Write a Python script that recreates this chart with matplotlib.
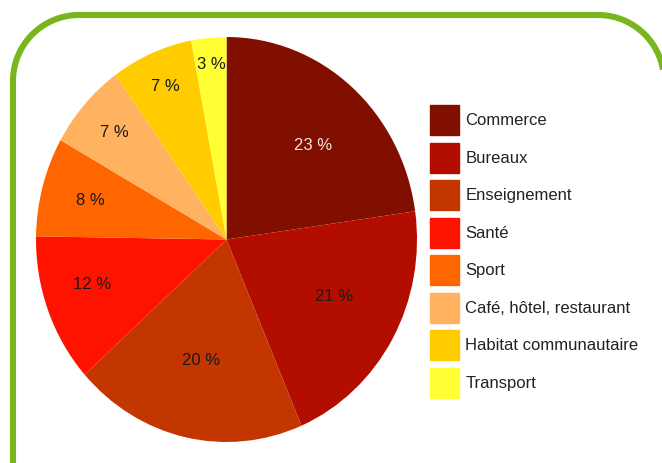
import numpy as np
import matplotlib
matplotlib.use("Agg")
import matplotlib.pyplot as plt
from matplotlib.patches import Patch

plt.rcParams['font.family'] = ['Liberation Sans', 'DejaVu Sans']

categories = ["Commerce", "Bureaux", "Enseignement", "Santé", "Sport",
              "Café, hôtel, restaurant", "Habitat communautaire", "Transport"]
shares = [23, 21, 20, 12, 8, 7, 7, 3]
colors = ["#800f00", "#b30d00", "#c43600", "#ff1300", "#ff6600",
          "#ffb360", "#ffcc00", "#ffff33"]

# where each percentage label sits: fraction of the radius, and a small
# angular nudge (degrees) away from the middle of the slice
label_r = [0.65, 0.63, 0.61, 0.74, 0.74, 0.79, 0.82, 0.87]
label_dtheta = [-3.5, 3, 0, -3, 0, 0, 0, 0]
label_colors = ["#f2e4e4"] + ["#1a1a1a"] * 7

W, H = 662, 463
fig = plt.figure(figsize=(W / 100, H / 100), dpi=100)
fig.patch.set_facecolor("white")

# green rounded frame, in pixel coordinates (y down), open at the bottom
bg = fig.add_axes([0, 0, 1, 1], zorder=0)
bg.set_xlim(0, W)
bg.set_ylim(H, 0)
bg.axis("off")
left, right, top, bottom, rad = 13, 664, 15, 600, 66
t = np.linspace(0, np.pi / 2, 40)
xs = np.concatenate([[left], left + rad - rad * np.cos(t),
                     right - rad + rad * np.sin(t), [right]])
ys = np.concatenate([[bottom], top + rad - rad * np.sin(t),
                     top + rad - rad * np.cos(t), [bottom]])
bg.plot(xs, ys, color="#79b51d", linewidth=4.4, solid_capstyle="butt",
        solid_joinstyle="round")

# the pie is slightly taller than wide
ax = fig.add_axes([36 / W, (H - 442) / H, 381 / W, 405 / H], zorder=1)
wedges, _ = ax.pie(shares, colors=colors, startangle=90, counterclock=False,
                   radius=1, wedgeprops=dict(linewidth=0))
ax.set_aspect("auto")
ax.set_xlim(-1, 1)
ax.set_ylim(-1, 1)
ax.axis("off")

for w, v, r, dt, c in zip(wedges, shares, label_r, label_dtheta, label_colors):
    mid = np.deg2rad((w.theta1 + w.theta2) / 2 + dt)
    ax.text(r * np.cos(mid), r * np.sin(mid), f"{v} %", ha="center",
            va="center", fontsize=12, color=c)

handles = [Patch(facecolor=c, edgecolor=c) for c in colors]
fig.legend(handles, categories, loc="upper left",
           bbox_to_anchor=(430 / W, 1 - 105 / H), frameon=False,
           fontsize=12, borderpad=0, borderaxespad=0,
           handlelength=1.74, handleheight=2.41, labelspacing=0.44,
           handletextpad=0.38, labelcolor="#222222")

fig.savefig("out.png", dpi=100, facecolor="white")
